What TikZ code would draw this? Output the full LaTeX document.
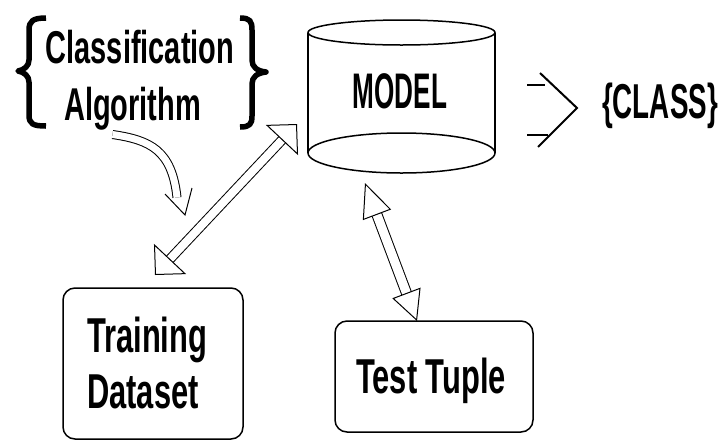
\documentclass[tikz,border=0pt]{standalone}
\usepackage{fontspec}
\setmainfont[FakeStretch=0.63]{Liberation Sans}
\usetikzlibrary{arrows.meta}
\begin{document}
\begin{tikzpicture}[x=1pt,y=-1pt,
  lbl/.style={inner sep=0pt, font=\fontsize{49}{56}\selectfont\bfseries},
  lblb/.style={inner sep=0pt, font=\fontsize{46}{57}\selectfont\bfseries},
  box/.style={draw, line width=1.5pt, rounded corners=12pt, inner sep=0pt},
  cyl/.style={line width=1.5pt},
  brace/.style={line width=5.5pt, line join=round},
  dbl/.style={double, double distance=8pt, line width=1pt},
  thinline/.style={line width=1pt},
  chev/.style={line width=2pt}
]
\useasboundingbox (0,0) rectangle (722,440);

% Classification Algorithm
\node[lblb, anchor=base] (ca1) at (140,63) {Classification};
\node[lblb, anchor=base] (ca2) at (132.5,120) {Algorithm};
\draw[brace] (46,18) .. controls (33,18) and (29,21) .. (29,30) -- (29,60)
  .. controls (29,66) and (24,70) .. (18,71) .. controls (24,72) and (29,76) .. (29,82)
  -- (29,115) .. controls (29,124) and (33,126) .. (46,126);
\draw[brace] (240,18) .. controls (250,18) and (252,21) .. (252,30) -- (252,60)
  .. controls (252,67) and (257,71) .. (266,72) .. controls (257,73) and (252,77) .. (252,84)
  -- (252,116) .. controls (252,124) and (250,127) .. (240,127);

% Model cylinder
\draw[cyl] (401.5,32.5) ellipse [x radius=93.5pt, y radius=12.5pt];
\draw[cyl] (401.5,153) ellipse [x radius=93.5pt, y radius=20pt];
\draw[cyl] (308,32.5) -- (308,153);
\draw[cyl] (495,32.5) -- (495,153);
\node[inner sep=0pt, font=\fontsize{50}{56}\selectfont\bfseries, anchor=base] (model) at (400,108) {\scalebox{0.83}[1]{MODEL}};

% Output
\draw[chev] (527,85) -- (545,85);
\draw[chev] (527,135) -- (548,135);
\draw[chev] (540,73) -- (577,108) -- (538,147);
\node[lbl, anchor=base] (class) at (660,118) {\scalebox{0.9}[1]{\{CLASS\}}};

% Training Dataset
\node[box, minimum width=180pt, minimum height=151pt] (td) at (153,363.5) {};
\node[lbl, anchor=base west] (td1) at (87,352) {Training};
\node[lbl, anchor=base west] (td2) at (87,408) {Dataset};

% Test Tuple
\node[box, minimum width=198pt, minimum height=111pt] (tt) at (434,376.5) {};
\node[lbl, anchor=base] (tt1) at (431,393) {Test Tuple};

% Arrows
\coordinate (a1) at (155,275);
\coordinate (a2) at (297,124);
\draw[dbl, {Triangle[open,length=22pt,width=44pt]}-{Triangle[open,length=22pt,width=44pt]}] (a1) -- (a2);

\coordinate (b1) at (365,183);
\coordinate (b2) at (417,321);
\draw[dbl, double distance=9pt, {Triangle[open,length=34pt,width=30pt]}-{Triangle[open,length=30pt,width=30pt]}] (b1) -- (b2);

\coordinate (c0) at (112.5,134.5);
\coordinate (c3) at (177,197.5);
\coordinate (ctip) at (185,215);
\draw[dbl, double distance=7pt] (c0) .. controls (150,140) and (172,150) .. (c3);
\draw[thinline] (165,194) -- (ctip) -- (192,188);
\end{tikzpicture}
\end{document}
